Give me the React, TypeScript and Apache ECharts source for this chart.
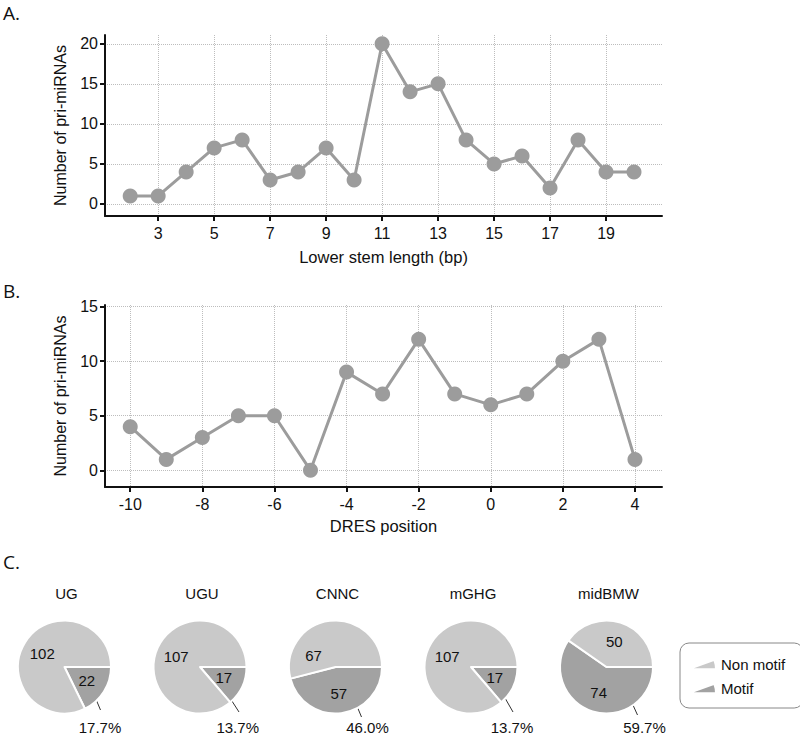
import React, { useEffect, useRef } from 'react';
import * as echarts from 'echarts';

// ---- data ----
const lowerStemLength = [2, 3, 4, 5, 6, 7, 8, 9, 10, 11, 12, 13, 14, 15, 16, 17, 18, 19, 20];
const lowerStemCounts = [1, 1, 4, 7, 8, 3, 4, 7, 3, 20, 14, 15, 8, 5, 6, 2, 8, 4, 4];
const xTicksA = [3, 5, 7, 9, 11, 13, 15, 17, 19];
const yTicksA = [0, 5, 10, 15, 20];

const dresPosition = [-10, -9, -8, -7, -6, -5, -4, -3, -2, -1, 0, 1, 2, 3, 4];
const dresCounts = [4, 1, 3, 5, 5, 0, 9, 7, 12, 7, 6, 7, 10, 12, 1];
const xTicksB = [-10, -8, -6, -4, -2, 0, 2, 4];
const yTicksB = [0, 5, 10, 15];

const motifNames = ['UG', 'UGU', 'CNNC', 'mGHG', 'midBMW'];
const nonMotifCounts = [102, 107, 67, 107, 50];
const motifCounts = [22, 17, 57, 17, 74];
const legendNames = ['Non motif', 'Motif'];

// ---- styles / layout ----
const FONT = '"Liberation Sans", Arial, sans-serif';
const LETTER_FONT = '"Open Sans", "Liberation Sans", sans-serif';
const LINE_COLOR = '#9c9c9c';
const LIGHT = '#c9c9c9';
const DARK = '#a2a2a2';
const AXIS_COLOR = '#111';

const PIE_R = 46.5;
const PIE_CY = 667;
const PIE_X0 = 64.5;
const PIE_STEP = 135.5;
const PCT_DX = [35.5, 37.7, 32, 41, 38];
const PCT_Y = 727;
const LEADERS = [
  [[30.5, 30], [36, 43]],
  [[30, 31], [39, 45]],
  [[21, 38], [26, 50]],
  [[34, 31], [42, 45]],
  [[26, 37], [31, 48]],
];
// hand-placed count label offsets (pie index -> [dx, dy] from centre) for Non motif
const NON_MOTIF_LABEL_OVERRIDE: Record<number, [number, number]> = { 2: [-22, -12] };

const LEGEND_ICON = 'path://M0,10 L28,10 A28,28 0 0,0 26.3,0.4 Z';

function xAxisOf(gridIndex: number, min: number, max: number, ticks: number[], name: string, gap: number) {
  return {
    type: 'value',
    gridIndex,
    min,
    max,
    name,
    nameLocation: 'middle',
    nameGap: gap,
    nameTextStyle: { fontSize: 16.5, fontFamily: FONT, color: AXIS_COLOR },
    axisLine: { show: true, onZero: false, lineStyle: { color: AXIS_COLOR, width: 2 } },
    axisTick: { show: true, length: 5, customValues: ticks, lineStyle: { color: AXIS_COLOR, width: 2 } },
    axisLabel: { customValues: ticks, fontSize: 16, fontFamily: FONT, color: AXIS_COLOR, margin: 9 },
    splitLine: { show: true, lineStyle: { color: '#bdbdbd', type: 'dotted', width: 1 } },
  };
}

function yAxisOf(gridIndex: number, min: number, max: number, ticks: number[]) {
  return {
    type: 'value',
    gridIndex,
    min,
    max,
    name: 'Number of pri-miRNAs',
    nameLocation: 'middle',
    nameGap: 37,
    nameTextStyle: { fontSize: 16, fontFamily: FONT, color: AXIS_COLOR },
    axisLine: { show: true, onZero: false, lineStyle: { color: AXIS_COLOR, width: 2 } },
    axisTick: { show: true, length: 5, customValues: ticks, lineStyle: { color: AXIS_COLOR, width: 2 } },
    axisLabel: { customValues: ticks, fontSize: 16, fontFamily: FONT, color: AXIS_COLOR, margin: 7 },
    splitLine: { show: true, lineStyle: { color: '#bdbdbd', type: 'dotted', width: 1 } },
  };
}

function lineSeries(idx: number, xs: number[], ys: number[]) {
  return {
    type: 'line',
    xAxisIndex: idx,
    yAxisIndex: idx,
    data: xs.map((x, i) => [x, ys[i]]),
    symbol: 'circle',
    symbolSize: 15,
    lineStyle: { color: LINE_COLOR, width: 3 },
    itemStyle: { color: LINE_COLOR },
    silent: true,
  };
}

function buildOption() {
  const centers = motifNames.map((_, i) => [PIE_X0 + PIE_STEP * i, PIE_CY]);

  const mainPies = motifNames.map((_, i) => {
    const [cx, cy] = centers[i];
    return {
      type: 'pie',
      center: centers[i],
      radius: PIE_R,
      startAngle: 0,
      clockwise: true,
      silent: true,
      avoidLabelOverlap: false,
      itemStyle: { borderColor: '#fff', borderWidth: 2 },
      data: [
        { name: legendNames[1], value: motifCounts[i], itemStyle: { color: DARK } },
        { name: legendNames[0], value: nonMotifCounts[i], itemStyle: { color: LIGHT } },
      ],
      label: { show: true, position: 'inside', formatter: '{c}', fontSize: 15, fontFamily: FONT, color: '#111' },
      labelLine: { show: false },
      labelLayout: (p: any) => {
        const o = NON_MOTIF_LABEL_OVERRIDE[i];
        if (!o || p.dataIndex !== 1) return {};
        return { x: cx + o[0], y: cy + o[1], align: 'center', verticalAlign: 'middle' };
      },
      emphasis: { disabled: true },
    };
  });

  const pctPies = motifNames.map((_, i) => {
    const [cx, cy] = centers[i];
    const [s, e] = LEADERS[i];
    return {
      type: 'pie',
      center: centers[i],
      radius: PIE_R,
      startAngle: 0,
      clockwise: true,
      silent: true,
      avoidLabelOverlap: false,
      itemStyle: { color: 'rgba(0,0,0,0)' },
      data: [
        { name: legendNames[1], value: motifCounts[i], label: { show: true }, labelLine: { show: true } },
        { name: legendNames[0], value: nonMotifCounts[i], label: { show: false }, labelLine: { show: false } },
      ],
      label: {
        position: 'outside',
        formatter: (p: any) => p.percent.toFixed(1) + '%',
        fontSize: 15,
        fontFamily: FONT,
        color: '#111',
      },
      labelLine: { show: true, length: 5, length2: 5, lineStyle: { color: '#333', width: 1 } },
      labelLayout: (p: any) => {
        if (p.dataIndex !== 0) return {};
        return {
          x: cx + PCT_DX[i],
          y: PCT_Y,
          align: 'center',
          verticalAlign: 'middle',
          labelLinePoints: [
            [cx + s[0], cy + s[1]],
            [cx + e[0], cy + e[1]],
          ],
        };
      },
      emphasis: { disabled: true },
    };
  });

  const letters = [
    { t: 'A.', y: 13 },
    { t: 'B.', y: 291 },
    { t: 'C.', y: 562 },
  ].map((l) => ({
    type: 'text',
    x: 3,
    y: l.y,
    style: { text: l.t, fontSize: 19, fontFamily: LETTER_FONT, fill: '#111', align: 'left', verticalAlign: 'middle' },
  }));

  const pieTitles = motifNames.map((n, i) => ({
    type: 'text',
    x: centers[i][0] + 2,
    y: 593,
    style: { text: n, fontSize: 15, fontFamily: FONT, fill: '#111', align: 'center', verticalAlign: 'middle' },
  }));

  return {
    animation: false,
    backgroundColor: '#fff',
    textStyle: { fontFamily: FONT },
    grid: [
      { left: 105, right: 138, top: 35, bottom: 519 },
      { left: 105, right: 138, top: 305, bottom: 248 },
    ],
    xAxis: [
      xAxisOf(0, 1.1, 21, xTicksA, 'Lower stem length (bp)', 32),
      xAxisOf(1, -10.7, 4.75, xTicksB, 'DRES position', 30),
    ],
    yAxis: [yAxisOf(0, -1.5, 21.1, yTicksA), yAxisOf(1, -1.53, 15.15, yTicksB)],
    legend: {
      orient: 'vertical',
      left: 680,
      top: 643,
      data: legendNames,
      icon: LEGEND_ICON,
      itemWidth: 28,
      itemHeight: 10,
      itemGap: 9,
      padding: [14, 18, 12, 7],
      borderColor: '#888',
      borderWidth: 1,
      borderRadius: 9,
      selectedMode: false,
      textStyle: { fontSize: 15, fontFamily: FONT, color: '#111' },
    },
    series: [
      lineSeries(0, lowerStemLength, lowerStemCounts),
      lineSeries(1, dresPosition, dresCounts),
      ...mainPies,
      ...pctPies,
    ],
    graphic: [...letters, ...pieTitles],
  };
}

export default function App() {
  const ref = useRef<HTMLDivElement>(null);
  useEffect(() => {
    const chart = echarts.init(ref.current!, null, { renderer: 'svg' });
    chart.setOption(buildOption() as any);
    return () => chart.dispose();
  }, []);
  return (
    <div
      ref={ref}
      style={{ position: 'fixed', left: 0, top: 0, width: 800, height: 735, background: '#fff' }}
    />
  );
}
